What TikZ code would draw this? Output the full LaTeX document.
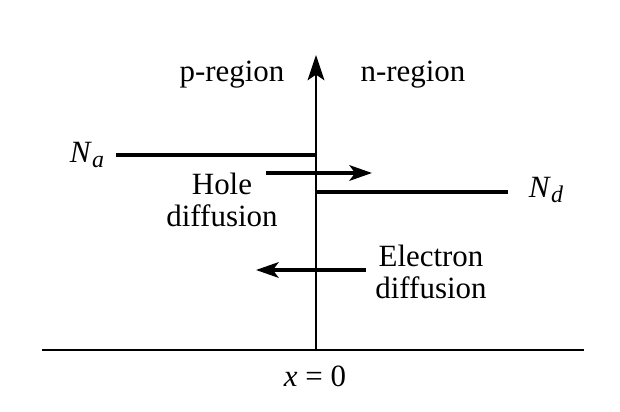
\documentclass[tikz,border=0pt]{standalone}
\usepackage{fontspec}
\setmainfont{Liberation Serif}
\usepackage{tikz}
\usetikzlibrary{arrows.meta, positioning}

\begin{document}
\begin{tikzpicture}[
  x=0.025cm, y=-0.025cm,
  lbl/.style    = {font=\fontsize{22}{23}\selectfont, align=center, inner sep=0pt},
  axis/.style   = {line width=1.3pt},
  level/.style  = {line width=2.6pt},
  flow/.style   = {line width=2.6pt, -{Stealth[length=16pt, width=11pt, inset=4pt]}},
]
  \useasboundingbox (0,0) rectangle (620,412);

  % Axes
  \coordinate (bl) at (42,350);
  \coordinate (br) at (584,350);
  \coordinate (o)  at (316,350);
  \coordinate (top) at (316,55);
  \draw[axis] (bl) -- (br);
  \draw[axis, -{Stealth[length=18pt, width=12pt, inset=4pt]}] (o) -- (top);

  % Region labels
  \node[lbl] (preg) at (232,75) {p-region};
  \node[lbl] (nreg) at (413,75) {n-region};
  \node[lbl] (x0)   at (315,376) {\textit{x} = 0};

  % Doping levels
  \node[lbl] (na) at (87,155) {\textit{N}\raisebox{-0.35ex}{\fontsize{17}{17}\selectfont\textit{a}}};
  \node[lbl] (nd) at (546,190) {\textit{N}\raisebox{-0.35ex}{\fontsize{17}{17}\selectfont\textit{d}}};
  \coordinate (naend) at (316,155);
  \coordinate (ndbeg) at (316,192);
  \coordinate (ndend) at (508,192);
  \draw[level] (na.east) ++(12,0) coordinate (nabeg) -- (naend);
  \draw[level] (ndbeg) -- (ndend);

  % Diffusion
  \node[lbl] (hole) at (222,200) {Hole\\diffusion};
  \node[lbl] (elec) at (431,272) {Electron\\diffusion};
  \coordinate (h1) at (266,173);
  \coordinate (h2) at (372,173);
  \coordinate (e1) at (366,270);
  \coordinate (e2) at (256,270);
  \draw[flow] (h1) -- (h2);
  \draw[flow] (e1) -- (e2);
\end{tikzpicture}
\end{document}
